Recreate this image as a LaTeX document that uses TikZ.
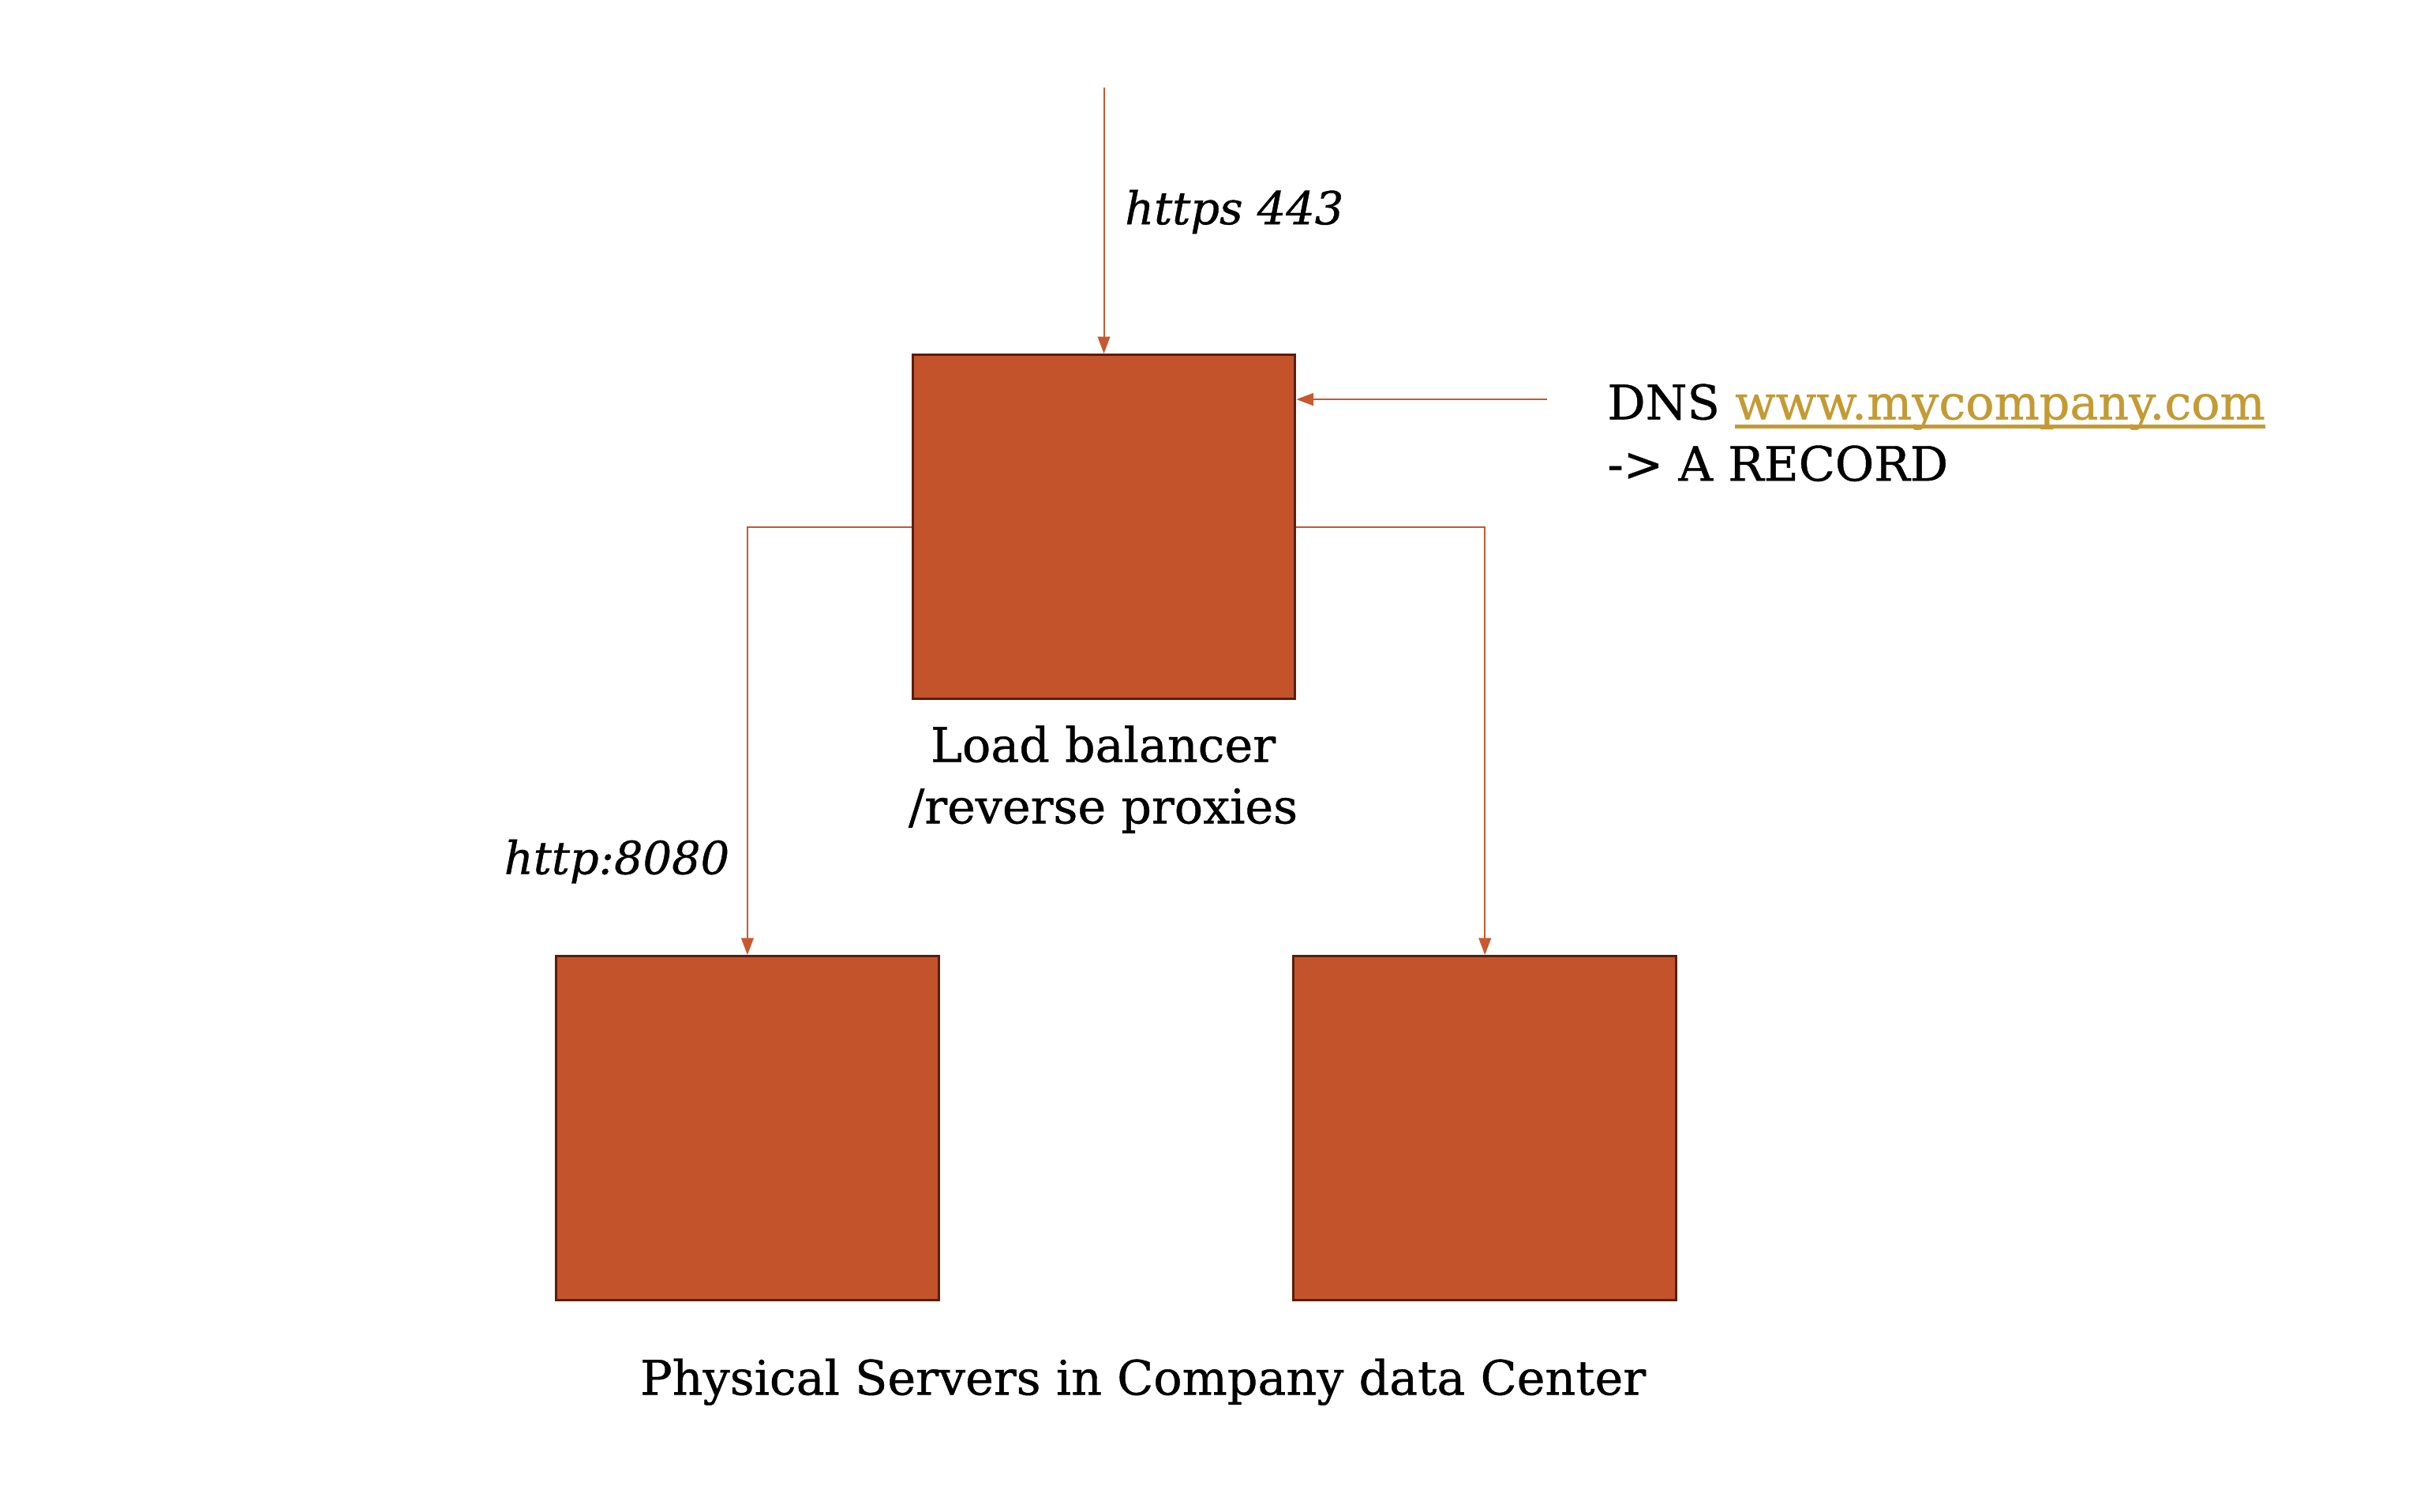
\documentclass[tikz,border=0pt]{standalone}
\usepackage{fontspec}
\setmainfont[FakeBold=0.7]{DejaVu Serif}
\usetikzlibrary{arrows.meta}
\definecolor{boxfill}{HTML}{C3532B}
\definecolor{boxline}{HTML}{5A1E0E}
\definecolor{conncol}{HTML}{C8582F}
\definecolor{linkcol}{HTML}{C49B33}
\newcommand\mylink[1]{\setbox0\hbox{#1}\leavevmode\rlap{\raisebox{-6pt}{\rule{\wd0}{2.6pt}}}\box0}
\begin{document}
\begin{tikzpicture}[x=1pt,y=-1pt,
  srv/.style={draw=boxline,fill=boxfill,line width=1.6pt,minimum width=249pt,minimum height=224pt,inner sep=0pt},
  conn/.style={draw=conncol,line width=1pt,-{Triangle[length=11pt,width=8pt]}},
  lbl/.style={font=\fontsize{31}{41}\selectfont,inner sep=0pt,text=black},
  itl/.style={font=\fontsize{29.5}{41}\selectfont\itshape,inner sep=0pt,text=black}]
\useasboundingbox[fill=white] (0,0) rectangle (1568,984);
\node[srv] (lb) at (718.5,343) {};
\node[srv] (s1) at (486.5,734.5) {};
\node[srv] (s2) at (966.5,734.5) {};
\coordinate (top) at (718.5,57);
\coordinate (dns) at (1007,260);
\draw[conn] (top) -- (lb.north);
\draw[conn] (dns) -- (lb.east |- dns);
\draw[conn] (lb.west) -| (s1.north);
\draw[conn] (lb.east) -| (s2.north);
\node[itl,anchor=base west] (https) at (732,146) {https 443};
\node[lbl,anchor=base west] (dnsa) at (1046,273) {DNS \textcolor{linkcol}{\mylink{www.mycompany.com}}};
\node[lbl,anchor=base west] (dnsb) at (1046,313) {-> A RECORD};
\node[lbl,anchor=base] (lbt1) at (718,496) {Load balancer};
\node[lbl,anchor=base] (lbt2) at (718,536) {/reverse proxies};
\node[itl,anchor=base west] (http) at (328,569) {http:8080};
\node[lbl,anchor=base] (phys) at (744,908) {Physical Servers in Company data Center};
\end{tikzpicture}
\end{document}
